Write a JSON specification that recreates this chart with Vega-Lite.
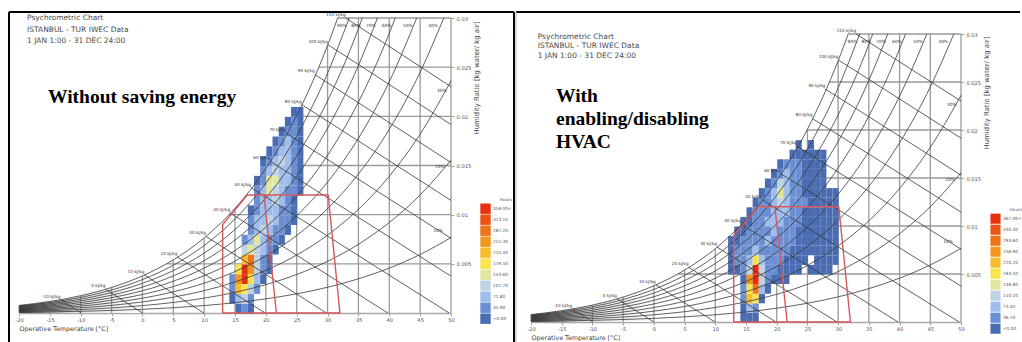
{
"$schema": "https://vega.github.io/schema/vega-lite/v6.json",
"background": "white",
"padding": {"left": 8, "top": 10, "right": 0, "bottom": 0},
"spacing": -1,
"config": {"view": {"stroke": null}, "font": "DejaVu Sans", "axis": {"grid": false}},
"resolve": {"scale": {"color": "independent"}},
"datasets": {
"rh": [
{"p":100,"t":-20,"w":0.000771},{"p":100,"t":-15,"w":0.001176},{"p":100,"t":-10,"w":0.001762},{"p":100,"t":-5,"w":0.002598},{"p":100,"t":0,"w":0.003775},{"p":100,"t":5,"w":0.005403},{"p":100,"t":10,"w":0.007632},{"p":100,"t":15,"w":0.01065},{"p":100,"t":20,"w":0.014699},{"p":100,"t":25,"w":0.020086},{"p":100,"t":30,"w":0.02721},{"p":100,"t":31.64,"w":0.03},
{"p":90,"t":-20,"w":0.000694},{"p":90,"t":-15,"w":0.001058},{"p":90,"t":-10,"w":0.001586},{"p":90,"t":-5,"w":0.002338},{"p":90,"t":0,"w":0.003395},{"p":90,"t":5,"w":0.004858},{"p":90,"t":10,"w":0.006861},{"p":90,"t":15,"w":0.009568},{"p":90,"t":20,"w":0.013198},{"p":90,"t":25,"w":0.018019},{"p":90,"t":30,"w":0.024382},{"p":90,"t":33.5,"w":0.03},
{"p":80,"t":-20,"w":0.000616},{"p":80,"t":-15,"w":0.000941},{"p":80,"t":-10,"w":0.001409},{"p":80,"t":-5,"w":0.002077},{"p":80,"t":0,"w":0.003016},{"p":80,"t":5,"w":0.004315},{"p":80,"t":10,"w":0.006091},{"p":80,"t":15,"w":0.008491},{"p":80,"t":20,"w":0.011704},{"p":80,"t":25,"w":0.015966},{"p":80,"t":30,"w":0.021579},{"p":80,"t":35,"w":0.028927},{"p":80,"t":35.62,"w":0.03},
{"p":70,"t":-20,"w":0.000539},{"p":70,"t":-15,"w":0.000822},{"p":70,"t":-10,"w":0.001233},{"p":70,"t":-5,"w":0.001817},{"p":70,"t":0,"w":0.002637},{"p":70,"t":5,"w":0.003772},{"p":70,"t":10,"w":0.005323},{"p":70,"t":15,"w":0.007417},{"p":70,"t":20,"w":0.010216},{"p":70,"t":25,"w":0.013925},{"p":70,"t":30,"w":0.0188},{"p":70,"t":35,"w":0.025165},{"p":70,"t":38.08,"w":0.03},
{"p":60,"t":-20,"w":0.000462},{"p":60,"t":-15,"w":0.000705},{"p":60,"t":-10,"w":0.001056},{"p":60,"t":-5,"w":0.001556},{"p":60,"t":0,"w":0.002259},{"p":60,"t":5,"w":0.003231},{"p":60,"t":10,"w":0.004557},{"p":60,"t":15,"w":0.006346},{"p":60,"t":20,"w":0.008737},{"p":60,"t":25,"w":0.011898},{"p":60,"t":30,"w":0.016045},{"p":60,"t":35,"w":0.021446},{"p":60,"t":40,"w":0.028442},{"p":60,"t":40.97,"w":0.03},
{"p":50,"t":-20,"w":0.000385},{"p":50,"t":-15,"w":0.000587},{"p":50,"t":-10,"w":0.00088},{"p":50,"t":-5,"w":0.001297},{"p":50,"t":0,"w":0.001882},{"p":50,"t":5,"w":0.00269},{"p":50,"t":10,"w":0.003793},{"p":50,"t":15,"w":0.00528},{"p":50,"t":20,"w":0.007264},{"p":50,"t":25,"w":0.009884},{"p":50,"t":30,"w":0.013314},{"p":50,"t":35,"w":0.01777},{"p":50,"t":40,"w":0.023522},{"p":50,"t":44.44,"w":0.03},
{"p":40,"t":-20,"w":0.000308},{"p":40,"t":-15,"w":0.00047},{"p":40,"t":-10,"w":0.000704},{"p":40,"t":-5,"w":0.001037},{"p":40,"t":0,"w":0.001505},{"p":40,"t":5,"w":0.00215},{"p":40,"t":10,"w":0.003031},{"p":40,"t":15,"w":0.004217},{"p":40,"t":20,"w":0.005798},{"p":40,"t":25,"w":0.007882},{"p":40,"t":30,"w":0.010606},{"p":40,"t":35,"w":0.014135},{"p":40,"t":40,"w":0.018677},{"p":40,"t":45,"w":0.024486},{"p":40,"t":48.83,"w":0.03},
{"p":30,"t":-20,"w":0.000231},{"p":30,"t":-15,"w":0.000353},{"p":30,"t":-10,"w":0.000528},{"p":30,"t":-5,"w":0.000778},{"p":30,"t":0,"w":0.001128},{"p":30,"t":5,"w":0.001611},{"p":30,"t":10,"w":0.00227},{"p":30,"t":15,"w":0.003157},{"p":30,"t":20,"w":0.004338},{"p":30,"t":25,"w":0.005893},{"p":30,"t":30,"w":0.00792},{"p":30,"t":35,"w":0.010541},{"p":30,"t":40,"w":0.013903},{"p":30,"t":45,"w":0.018186},{"p":30,"t":50,"w":0.023609},
{"p":20,"t":-20,"w":0.000154},{"p":20,"t":-15,"w":0.000235},{"p":20,"t":-10,"w":0.000352},{"p":20,"t":-5,"w":0.000518},{"p":20,"t":0,"w":0.000751},{"p":20,"t":5,"w":0.001073},{"p":20,"t":10,"w":0.001511},{"p":20,"t":15,"w":0.002101},{"p":20,"t":20,"w":0.002885},{"p":20,"t":25,"w":0.003916},{"p":20,"t":30,"w":0.005258},{"p":20,"t":35,"w":0.006988},{"p":20,"t":40,"w":0.0092},{"p":20,"t":45,"w":0.012007},{"p":20,"t":50,"w":0.015543},
{"p":10,"t":-20,"w":0.000077},{"p":10,"t":-15,"w":0.000117},{"p":10,"t":-10,"w":0.000176},{"p":10,"t":-5,"w":0.000259},{"p":10,"t":0,"w":0.000376},{"p":10,"t":5,"w":0.000536},{"p":10,"t":10,"w":0.000755},{"p":10,"t":15,"w":0.001049},{"p":10,"t":20,"w":0.001439},{"p":10,"t":25,"w":0.001952},{"p":10,"t":30,"w":0.002618},{"p":10,"t":35,"w":0.003475},{"p":10,"t":40,"w":0.004566},{"p":10,"t":45,"w":0.005946},{"p":10,"t":50,"w":0.007675}
],
"enth": [
{"h":-10,"t":-13.3,"w":0.001365},{"h":-10,"t":-9.94,"w":0},
{"h":0,"t":-6.0,"w":0.002424},{"h":0,"t":0,"w":0},
{"h":10,"t":0.31,"w":0.003873},{"h":10,"t":9.94,"w":0},
{"h":20,"t":5.66,"w":0.005696},{"h":20,"t":19.88,"w":0},
{"h":30,"t":10.28,"w":0.0078},{"h":30,"t":29.82,"w":0},
{"h":40,"t":14.2,"w":0.010174},{"h":40,"t":39.76,"w":0},
{"h":50,"t":17.6,"w":0.012746},{"h":50,"t":49.7,"w":0},
{"h":60,"t":20.7,"w":0.015427},{"h":60,"t":50,"w":0.00374},
{"h":70,"t":23.3,"w":0.0183},{"h":70,"t":50,"w":0.00759},
{"h":80,"t":25.8,"w":0.0212},{"h":80,"t":50,"w":0.01145},
{"h":90,"t":27.9,"w":0.02426},{"h":90,"t":50,"w":0.0153},
{"h":100,"t":30.05,"w":0.02729},{"h":100,"t":50,"w":0.01916},
{"h":110,"t":32.93,"w":0.03},{"h":110,"t":50,"w":0.02301}
],
"hlab": [
{"t":-13.3,"w":0.001365,"lab":"-10 kJ/kg"},{"t":-6.0,"w":0.002424,"lab":"0 kJ/kg"},{"t":0.31,"w":0.003873,"lab":"10 kJ/kg"},{"t":5.66,"w":0.005696,"lab":"20 kJ/kg"},{"t":10.28,"w":0.0078,"lab":"30 kJ/kg"},{"t":14.2,"w":0.010174,"lab":"40 kJ/kg"},{"t":17.6,"w":0.012746,"lab":"50 kJ/kg"},{"t":20.7,"w":0.015427,"lab":"60 kJ/kg"},{"t":23.3,"w":0.0183,"lab":"70 kJ/kg"},{"t":25.8,"w":0.0212,"lab":"80 kJ/kg"},{"t":27.9,"w":0.02426,"lab":"90 kJ/kg"},{"t":30.05,"w":0.02729,"lab":"100 kJ/kg"},{"t":32.93,"w":0.03,"lab":"110 kJ/kg"}
],
"rhlab": [
{"t":32.3,"w":0.0292,"lab":"90%"},{"t":34.6,"w":0.0292,"lab":"80%"},{"t":37.0,"w":0.0292,"lab":"70%"},{"t":39.6,"w":0.0292,"lab":"60%"},{"t":43.0,"w":0.0292,"lab":"50%"},{"t":47.1,"w":0.0292,"lab":"40%"},{"t":48.5,"w":0.0226,"lab":"30%"},{"t":48.2,"w":0.0148,"lab":"20%"},{"t":47.9,"w":0.0083,"lab":"10%"}
],
"vgrid": [
{"t":-20,"w":0,"w2":0.000771},{"t":-15,"w":0,"w2":0.001176},{"t":-10,"w":0,"w2":0.001762},{"t":-5,"w":0,"w2":0.002598},{"t":0,"w":0,"w2":0.003775},{"t":5,"w":0,"w2":0.005403},{"t":10,"w":0,"w2":0.007632},{"t":15,"w":0,"w2":0.01065},{"t":20,"w":0,"w2":0.014699},{"t":25,"w":0,"w2":0.020086},{"t":30,"w":0,"w2":0.02721},{"t":35,"w":0,"w2":0.03},{"t":40,"w":0,"w2":0.03},{"t":45,"w":0,"w2":0.03},{"t":50,"w":0,"w2":0.03}
],
"hgrid": [
{"w":0.005,"t":3.9,"t2":50},{"w":0.01,"t":14.04,"t2":50},{"w":0.015,"t":20.31,"t2":50},{"w":0.02,"t":24.93,"t2":50},{"w":0.025,"t":28.59,"t2":50},{"w":0.03,"t":31.64,"t2":50}
],
"shade": [
{"t":-20,"w":0.000771},{"t":-15,"w":0.001176},{"t":-10,"w":0.001762},{"t":-5,"w":0.002598},{"t":0,"w":0.003775}
],
"frameLdark": [
{"t":-21.62,"t2":60.21,"w":0.03061,"w2":0.03061},{"t":-21.62,"t2":-21.62,"w":0.03061,"w2":-0.003},{"t":60.21,"t2":60.21,"w":0.03061,"w2":-0.003}
],
"frameLlight": [
{"t":-21.62,"t2":60.21,"w":-0.003,"w2":-0.003}
],
"frameRdark": [
{"t":-22.44,"t2":59.6,"w":0.032292,"w2":0.032292}
],
"frameRlight": [
{"t":-22.44,"t2":-22.44,"w":0.032292,"w2":-0.002135},{"t":-22.44,"t2":59.6,"w":-0.002135,"w2":-0.002135}
],
"comfort": [
{"poly":"A","i":0,"t":13,"w":0},{"poly":"A","i":1,"t":13,"w":0.009},{"poly":"A","i":2,"t":17,"w":0.012},{"poly":"A","i":3,"t":19.7,"w":0.012},{"poly":"A","i":4,"t":21.7,"w":0},{"poly":"A","i":5,"t":13,"w":0},
{"poly":"B","i":0,"t":19.7,"w":0.012},{"poly":"B","i":1,"t":30.1,"w":0.012},{"poly":"B","i":2,"t":32,"w":0},{"poly":"B","i":3,"t":21.7,"w":0}
],
"heatL": [
{"t":15,"w":0,"hrs":"<0.00"},{"t":16,"w":0,"hrs":"35.90"},{"t":17,"w":0,"hrs":"<0.00"},
{"t":14,"w":0.001,"hrs":"<0.00"},{"t":15,"w":0.001,"hrs":"71.80"},{"t":16,"w":0.001,"hrs":"107.70"},{"t":17,"w":0.001,"hrs":"35.90"},
{"t":14,"w":0.002,"hrs":"35.90"},{"t":15,"w":0.002,"hrs":"215.40"},{"t":16,"w":0.002,"hrs":"179.50"},{"t":17,"w":0.002,"hrs":"107.70"},{"t":18,"w":0.002,"hrs":"35.90"},
{"t":14,"w":0.003,"hrs":"35.90"},{"t":15,"w":0.003,"hrs":"251.30"},{"t":16,"w":0.003,"hrs":"359.00<"},{"t":17,"w":0.003,"hrs":"179.50"},{"t":18,"w":0.003,"hrs":"71.80"},{"t":19,"w":0.003,"hrs":"<0.00"},
{"t":15,"w":0.004,"hrs":"179.50"},{"t":16,"w":0.004,"hrs":"359.00<"},{"t":17,"w":0.004,"hrs":"251.30"},{"t":18,"w":0.004,"hrs":"107.70"},{"t":19,"w":0.004,"hrs":"35.90"},{"t":20,"w":0.004,"hrs":"<0.00"},
{"t":16,"w":0.005,"hrs":"215.40"},{"t":17,"w":0.005,"hrs":"287.20"},{"t":18,"w":0.005,"hrs":"107.70"},{"t":19,"w":0.005,"hrs":"35.90"},{"t":20,"w":0.005,"hrs":"<0.00"},
{"t":16,"w":0.006,"hrs":"107.70"},{"t":17,"w":0.006,"hrs":"143.60"},{"t":18,"w":0.006,"hrs":"107.70"},{"t":19,"w":0.006,"hrs":"71.80"},{"t":20,"w":0.006,"hrs":"35.90"},{"t":21,"w":0.006,"hrs":"<0.00"},
{"t":16,"w":0.007,"hrs":"35.90"},{"t":17,"w":0.007,"hrs":"71.80"},{"t":18,"w":0.007,"hrs":"143.60"},{"t":19,"w":0.007,"hrs":"71.80"},{"t":20,"w":0.007,"hrs":"35.90"},{"t":21,"w":0.007,"hrs":"35.90"},{"t":22,"w":0.007,"hrs":"<0.00"},
{"t":17,"w":0.008,"hrs":"35.90"},{"t":18,"w":0.008,"hrs":"71.80"},{"t":19,"w":0.008,"hrs":"107.70"},{"t":20,"w":0.008,"hrs":"71.80"},{"t":21,"w":0.008,"hrs":"35.90"},{"t":22,"w":0.008,"hrs":"35.90"},{"t":23,"w":0.008,"hrs":"<0.00"},
{"t":17,"w":0.009,"hrs":"35.90"},{"t":18,"w":0.009,"hrs":"71.80"},{"t":19,"w":0.009,"hrs":"71.80"},{"t":20,"w":0.009,"hrs":"107.70"},{"t":21,"w":0.009,"hrs":"71.80"},{"t":22,"w":0.009,"hrs":"35.90"},{"t":23,"w":0.009,"hrs":"35.90"},{"t":24,"w":0.009,"hrs":"<0.00"},
{"t":17,"w":0.01,"hrs":"<0.00"},{"t":18,"w":0.01,"hrs":"35.90"},{"t":19,"w":0.01,"hrs":"71.80"},{"t":20,"w":0.01,"hrs":"71.80"},{"t":21,"w":0.01,"hrs":"71.80"},{"t":22,"w":0.01,"hrs":"35.90"},{"t":23,"w":0.01,"hrs":"35.90"},{"t":24,"w":0.01,"hrs":"<0.00"},
{"t":18,"w":0.011,"hrs":"35.90"},{"t":19,"w":0.011,"hrs":"71.80"},{"t":20,"w":0.011,"hrs":"71.80"},{"t":21,"w":0.011,"hrs":"107.70"},{"t":22,"w":0.011,"hrs":"71.80"},{"t":23,"w":0.011,"hrs":"35.90"},{"t":24,"w":0.011,"hrs":"<0.00"},
{"t":18,"w":0.012,"hrs":"35.90"},{"t":19,"w":0.012,"hrs":"71.80"},{"t":20,"w":0.012,"hrs":"143.60"},{"t":21,"w":0.012,"hrs":"107.70"},{"t":22,"w":0.012,"hrs":"71.80"},{"t":23,"w":0.012,"hrs":"35.90"},{"t":24,"w":0.012,"hrs":"35.90"},{"t":25,"w":0.012,"hrs":"<0.00"},
{"t":18,"w":0.013,"hrs":"<0.00"},{"t":19,"w":0.013,"hrs":"35.90"},{"t":20,"w":0.013,"hrs":"143.60"},{"t":21,"w":0.013,"hrs":"143.60"},{"t":22,"w":0.013,"hrs":"71.80"},{"t":23,"w":0.013,"hrs":"71.80"},{"t":24,"w":0.013,"hrs":"35.90"},{"t":25,"w":0.013,"hrs":"<0.00"},
{"t":19,"w":0.014,"hrs":"35.90"},{"t":20,"w":0.014,"hrs":"71.80"},{"t":21,"w":0.014,"hrs":"107.70"},{"t":22,"w":0.014,"hrs":"71.80"},{"t":23,"w":0.014,"hrs":"71.80"},{"t":24,"w":0.014,"hrs":"35.90"},{"t":25,"w":0.014,"hrs":"<0.00"},
{"t":19,"w":0.015,"hrs":"<0.00"},{"t":20,"w":0.015,"hrs":"35.90"},{"t":21,"w":0.015,"hrs":"71.80"},{"t":22,"w":0.015,"hrs":"107.70"},{"t":23,"w":0.015,"hrs":"71.80"},{"t":24,"w":0.015,"hrs":"35.90"},{"t":25,"w":0.015,"hrs":"<0.00"},
{"t":20,"w":0.016,"hrs":"<0.00"},{"t":21,"w":0.016,"hrs":"35.90"},{"t":22,"w":0.016,"hrs":"71.80"},{"t":23,"w":0.016,"hrs":"71.80"},{"t":24,"w":0.016,"hrs":"35.90"},{"t":25,"w":0.016,"hrs":"<0.00"},
{"t":21,"w":0.017,"hrs":"<0.00"},{"t":22,"w":0.017,"hrs":"35.90"},{"t":23,"w":0.017,"hrs":"71.80"},{"t":24,"w":0.017,"hrs":"35.90"},{"t":25,"w":0.017,"hrs":"<0.00"},
{"t":22,"w":0.018,"hrs":"<0.00"},{"t":23,"w":0.018,"hrs":"35.90"},{"t":24,"w":0.018,"hrs":"35.90"},{"t":25,"w":0.018,"hrs":"<0.00"},
{"t":23,"w":0.019,"hrs":"<0.00"},{"t":24,"w":0.019,"hrs":"35.90"},{"t":25,"w":0.019,"hrs":"<0.00"},
{"t":24,"w":0.02,"hrs":"<0.00"},{"t":25,"w":0.02,"hrs":"<0.00"}
],
"heatR": [
{"t":14,"w":0,"hrs":"<0.00"},{"t":15,"w":0,"hrs":"<0.00"},{"t":16,"w":0,"hrs":"<0.00"},
{"t":14,"w":0.001,"hrs":"<0.00"},{"t":15,"w":0.001,"hrs":"73.40"},{"t":16,"w":0.001,"hrs":"36.70"},
{"t":14,"w":0.002,"hrs":"36.70"},{"t":15,"w":0.002,"hrs":"220.20"},{"t":16,"w":0.002,"hrs":"183.50"},{"t":17,"w":0.002,"hrs":"<0.00"},
{"t":14,"w":0.003,"hrs":"36.70"},{"t":15,"w":0.003,"hrs":"183.50"},{"t":16,"w":0.003,"hrs":"293.60"},{"t":17,"w":0.003,"hrs":"73.40"},{"t":18,"w":0.003,"hrs":"<0.00"},
{"t":14,"w":0.004,"hrs":"<0.00"},{"t":15,"w":0.004,"hrs":"256.90"},{"t":16,"w":0.004,"hrs":"367.00<"},{"t":17,"w":0.004,"hrs":"110.10"},{"t":18,"w":0.004,"hrs":"36.70"},{"t":19,"w":0.004,"hrs":"<0.00"},{"t":20,"w":0.004,"hrs":"<0.00"},{"t":21,"w":0.004,"hrs":"<0.00"},
{"t":12,"w":0.005,"hrs":"<0.00"},{"t":13,"w":0.005,"hrs":"<0.00"},{"t":14,"w":0.005,"hrs":"36.70"},{"t":15,"w":0.005,"hrs":"110.10"},{"t":16,"w":0.005,"hrs":"367.00<"},{"t":17,"w":0.005,"hrs":"110.10"},{"t":18,"w":0.005,"hrs":"36.70"},{"t":19,"w":0.005,"hrs":"36.70"},{"t":20,"w":0.005,"hrs":"<0.00"},{"t":21,"w":0.005,"hrs":"<0.00"},{"t":22,"w":0.005,"hrs":"<0.00"},{"t":23,"w":0.005,"hrs":"<0.00"},{"t":25,"w":0.005,"hrs":"<0.00"},{"t":26,"w":0.005,"hrs":"<0.00"},{"t":27,"w":0.005,"hrs":"<0.00"},{"t":28,"w":0.005,"hrs":"<0.00"},
{"t":12,"w":0.006,"hrs":"<0.00"},{"t":13,"w":0.006,"hrs":"36.70"},{"t":14,"w":0.006,"hrs":"36.70"},{"t":15,"w":0.006,"hrs":"73.40"},{"t":16,"w":0.006,"hrs":"183.50"},{"t":17,"w":0.006,"hrs":"73.40"},{"t":18,"w":0.006,"hrs":"36.70"},{"t":19,"w":0.006,"hrs":"36.70"},{"t":20,"w":0.006,"hrs":"36.70"},{"t":21,"w":0.006,"hrs":"<0.00"},{"t":22,"w":0.006,"hrs":"<0.00"},{"t":23,"w":0.006,"hrs":"<0.00"},{"t":24,"w":0.006,"hrs":"<0.00"},{"t":26,"w":0.006,"hrs":"<0.00"},{"t":27,"w":0.006,"hrs":"<0.00"},{"t":28,"w":0.006,"hrs":"<0.00"},{"t":29,"w":0.006,"hrs":"<0.00"},
{"t":12,"w":0.007,"hrs":"<0.00"},{"t":13,"w":0.007,"hrs":"36.70"},{"t":14,"w":0.007,"hrs":"36.70"},{"t":15,"w":0.007,"hrs":"36.70"},{"t":16,"w":0.007,"hrs":"73.40"},{"t":17,"w":0.007,"hrs":"36.70"},{"t":18,"w":0.007,"hrs":"36.70"},{"t":19,"w":0.007,"hrs":"36.70"},{"t":20,"w":0.007,"hrs":"36.70"},{"t":21,"w":0.007,"hrs":"36.70"},{"t":22,"w":0.007,"hrs":"<0.00"},{"t":23,"w":0.007,"hrs":"<0.00"},{"t":24,"w":0.007,"hrs":"<0.00"},{"t":25,"w":0.007,"hrs":"<0.00"},{"t":26,"w":0.007,"hrs":"<0.00"},{"t":27,"w":0.007,"hrs":"<0.00"},{"t":28,"w":0.007,"hrs":"<0.00"},{"t":29,"w":0.007,"hrs":"<0.00"},
{"t":12,"w":0.008,"hrs":"<0.00"},{"t":13,"w":0.008,"hrs":"<0.00"},{"t":14,"w":0.008,"hrs":"36.70"},{"t":15,"w":0.008,"hrs":"36.70"},{"t":16,"w":0.008,"hrs":"36.70"},{"t":17,"w":0.008,"hrs":"36.70"},{"t":18,"w":0.008,"hrs":"73.40"},{"t":19,"w":0.008,"hrs":"36.70"},{"t":20,"w":0.008,"hrs":"36.70"},{"t":21,"w":0.008,"hrs":"36.70"},{"t":22,"w":0.008,"hrs":"36.70"},{"t":23,"w":0.008,"hrs":"<0.00"},{"t":24,"w":0.008,"hrs":"<0.00"},{"t":25,"w":0.008,"hrs":"<0.00"},{"t":26,"w":0.008,"hrs":"<0.00"},{"t":27,"w":0.008,"hrs":"<0.00"},{"t":28,"w":0.008,"hrs":"<0.00"},{"t":29,"w":0.008,"hrs":"<0.00"},
{"t":13,"w":0.009,"hrs":"<0.00"},{"t":14,"w":0.009,"hrs":"<0.00"},{"t":15,"w":0.009,"hrs":"36.70"},{"t":16,"w":0.009,"hrs":"36.70"},{"t":17,"w":0.009,"hrs":"36.70"},{"t":18,"w":0.009,"hrs":"36.70"},{"t":19,"w":0.009,"hrs":"73.40"},{"t":20,"w":0.009,"hrs":"36.70"},{"t":21,"w":0.009,"hrs":"36.70"},{"t":22,"w":0.009,"hrs":"36.70"},{"t":23,"w":0.009,"hrs":"<0.00"},{"t":24,"w":0.009,"hrs":"<0.00"},{"t":25,"w":0.009,"hrs":"<0.00"},{"t":26,"w":0.009,"hrs":"<0.00"},{"t":27,"w":0.009,"hrs":"<0.00"},{"t":28,"w":0.009,"hrs":"<0.00"},{"t":29,"w":0.009,"hrs":"<0.00"},
{"t":14,"w":0.01,"hrs":"<0.00"},{"t":15,"w":0.01,"hrs":"<0.00"},{"t":16,"w":0.01,"hrs":"36.70"},{"t":17,"w":0.01,"hrs":"36.70"},{"t":18,"w":0.01,"hrs":"73.40"},{"t":19,"w":0.01,"hrs":"73.40"},{"t":20,"w":0.01,"hrs":"73.40"},{"t":21,"w":0.01,"hrs":"36.70"},{"t":22,"w":0.01,"hrs":"36.70"},{"t":23,"w":0.01,"hrs":"36.70"},{"t":24,"w":0.01,"hrs":"<0.00"},{"t":25,"w":0.01,"hrs":"<0.00"},{"t":26,"w":0.01,"hrs":"<0.00"},{"t":27,"w":0.01,"hrs":"<0.00"},{"t":28,"w":0.01,"hrs":"<0.00"},{"t":29,"w":0.01,"hrs":"<0.00"},
{"t":15,"w":0.011,"hrs":"<0.00"},{"t":16,"w":0.011,"hrs":"36.70"},{"t":17,"w":0.011,"hrs":"36.70"},{"t":18,"w":0.011,"hrs":"36.70"},{"t":19,"w":0.011,"hrs":"73.40"},{"t":20,"w":0.011,"hrs":"73.40"},{"t":21,"w":0.011,"hrs":"73.40"},{"t":22,"w":0.011,"hrs":"36.70"},{"t":23,"w":0.011,"hrs":"36.70"},{"t":24,"w":0.011,"hrs":"<0.00"},{"t":25,"w":0.011,"hrs":"<0.00"},{"t":26,"w":0.011,"hrs":"<0.00"},{"t":27,"w":0.011,"hrs":"<0.00"},{"t":28,"w":0.011,"hrs":"<0.00"},{"t":29,"w":0.011,"hrs":"<0.00"},
{"t":16,"w":0.012,"hrs":"<0.00"},{"t":17,"w":0.012,"hrs":"36.70"},{"t":18,"w":0.012,"hrs":"36.70"},{"t":19,"w":0.012,"hrs":"73.40"},{"t":20,"w":0.012,"hrs":"110.10"},{"t":21,"w":0.012,"hrs":"73.40"},{"t":22,"w":0.012,"hrs":"36.70"},{"t":23,"w":0.012,"hrs":"36.70"},{"t":24,"w":0.012,"hrs":"36.70"},{"t":25,"w":0.012,"hrs":"<0.00"},{"t":26,"w":0.012,"hrs":"<0.00"},{"t":27,"w":0.012,"hrs":"<0.00"},{"t":28,"w":0.012,"hrs":"<0.00"},{"t":29,"w":0.012,"hrs":"<0.00"},
{"t":17,"w":0.013,"hrs":"<0.00"},{"t":18,"w":0.013,"hrs":"36.70"},{"t":19,"w":0.013,"hrs":"73.40"},{"t":20,"w":0.013,"hrs":"146.80"},{"t":21,"w":0.013,"hrs":"73.40"},{"t":22,"w":0.013,"hrs":"36.70"},{"t":23,"w":0.013,"hrs":"36.70"},{"t":24,"w":0.013,"hrs":"<0.00"},{"t":25,"w":0.013,"hrs":"<0.00"},{"t":26,"w":0.013,"hrs":"<0.00"},{"t":27,"w":0.013,"hrs":"<0.00"},{"t":28,"w":0.013,"hrs":"<0.00"},{"t":29,"w":0.013,"hrs":"<0.00"},
{"t":18,"w":0.014,"hrs":"<0.00"},{"t":19,"w":0.014,"hrs":"36.70"},{"t":20,"w":0.014,"hrs":"110.10"},{"t":21,"w":0.014,"hrs":"73.40"},{"t":22,"w":0.014,"hrs":"36.70"},{"t":23,"w":0.014,"hrs":"36.70"},{"t":24,"w":0.014,"hrs":"<0.00"},{"t":25,"w":0.014,"hrs":"<0.00"},{"t":26,"w":0.014,"hrs":"<0.00"},{"t":27,"w":0.014,"hrs":"<0.00"},
{"t":19,"w":0.015,"hrs":"<0.00"},{"t":20,"w":0.015,"hrs":"36.70"},{"t":21,"w":0.015,"hrs":"73.40"},{"t":22,"w":0.015,"hrs":"36.70"},{"t":23,"w":0.015,"hrs":"36.70"},{"t":24,"w":0.015,"hrs":"<0.00"},{"t":25,"w":0.015,"hrs":"<0.00"},{"t":26,"w":0.015,"hrs":"<0.00"},{"t":27,"w":0.015,"hrs":"<0.00"},
{"t":20,"w":0.016,"hrs":"<0.00"},{"t":21,"w":0.016,"hrs":"36.70"},{"t":22,"w":0.016,"hrs":"36.70"},{"t":23,"w":0.016,"hrs":"36.70"},{"t":24,"w":0.016,"hrs":"<0.00"},{"t":25,"w":0.016,"hrs":"<0.00"},{"t":26,"w":0.016,"hrs":"<0.00"},{"t":27,"w":0.016,"hrs":"<0.00"},
{"t":22,"w":0.017,"hrs":"<0.00"},{"t":23,"w":0.017,"hrs":"<0.00"},{"t":24,"w":0.017,"hrs":"<0.00"},{"t":25,"w":0.017,"hrs":"<0.00"},{"t":26,"w":0.017,"hrs":"<0.00"},{"t":27,"w":0.017,"hrs":"<0.00"},
{"t":23,"w":0.018,"hrs":"<0.00"},{"t":25,"w":0.018,"hrs":"<0.00"}
]
},
"hconcat": [
{
"width": 432, "height": 295,
"layer": [
{"data": {"name": "shade"}, "mark": {"type": "area", "interpolate": "monotone", "color": {"gradient": "linear", "x1": 0, "x2": 1, "y1": 0, "y2": 0, "stops": [{"offset": 0, "color": "#4a4a4a"}, {"offset": 0.2, "color": "#9a9a9a"}, {"offset": 0.45, "color": "#e2e2e2"}, {"offset": 1, "color": "#ffffff"}]}},
 "encoding": {"x": {"field": "t", "type": "quantitative"}, "y": {"field": "w", "type": "quantitative"}}},
{"data": {"name": "vgrid"}, "mark": {"type": "rule", "color": "#9a9a9a", "strokeWidth": 1.3},
 "encoding": {
  "x": {"field": "t", "type": "quantitative", "scale": {"domain": [-20, 50], "nice": false, "zero": false},
   "axis": {"values": [-20,-15,-10,-5,0,5,10,15,20,25,30,35,40,45,50], "labelExpr": "''+datum.value", "labelFontSize": 5.2, "labelColor": "#555", "labelPadding": 1, "labelFlush": false, "labelOverlap": false, "tickColor": "#a0a0a0", "tickSize": 3, "domain": true, "domainColor": "#a8a8a8", "domainWidth": 1.5, "grid": false, "title": "Operative Temperature [°C]", "titleFontSize": 6.4, "titleFontWeight": "normal", "titleColor": "#444", "titleAnchor": "start", "titlePadding": 3}},
  "y": {"field": "w", "type": "quantitative", "scale": {"domain": [0, 0.03], "nice": false, "zero": false},
   "axis": {"orient": "right", "values": [0.005,0.01,0.015,0.02,0.025,0.03], "labelExpr": "''+datum.value", "labelFontSize": 5.2, "labelColor": "#555", "labelPadding": 2, "labelFlush": false, "labelOverlap": false, "domain": false, "tickColor": "#a0a0a0", "tickSize": 3, "grid": false, "title": "Humidity Ratio [kg water/ kg air]", "titleAngle": 270, "titleAlign": "right", "titleBaseline": "top", "titleY": 3, "titleFontSize": 6.9, "titleFontWeight": "normal", "titleColor": "#444", "titlePadding": 3}},
  "y2": {"field": "w2"}}},
{"data": {"name": "hgrid"}, "mark": {"type": "rule", "color": "#9a9a9a", "strokeWidth": 1.3},
 "encoding": {"x": {"field": "t", "type": "quantitative"}, "x2": {"field": "t2"}, "y": {"field": "w", "type": "quantitative"}}},
{"data": {"name": "heatL"}, "mark": {"type": "rect"},
 "encoding": {
  "x": {"field": "t", "type": "quantitative", "bin": {"binned": true, "step": 1}},
  "y": {"field": "w", "type": "quantitative", "bin": {"binned": true, "step": 0.001}},
  "color": {"field": "hrs", "type": "nominal",
   "scale": {"domain": ["359.00<","323.10","287.20","251.30","215.40","179.50","143.60","107.70","71.80","35.90","<0.00"], "range": ["#e8300e","#ea5313","#ee7316","#f2951d","#f6bb2e","#f8e44e","#e2e59c","#bfd3e3","#9fbeee","#6b8fd3","#4a6cb3"]},
   "legend": {"title": "Hours", "orient": "none", "legendX": 461, "legendY": 180, "symbolType": "square", "symbolSize": 108, "symbolStrokeWidth": 0, "symbolOpacity": 1, "rowPadding": 0, "labelFontSize": 4.3, "labelColor": "#555", "labelOffset": 2, "titleFontSize": 4.2, "titleFontWeight": "normal", "titleColor": "#555", "titlePadding": 1, "titleAnchor": "end", "padding": 0}}}},
{"data": {"name": "rh"}, "mark": {"type": "line", "interpolate": "monotone", "color": "#383838", "strokeWidth": 0.8},
 "encoding": {"x": {"field": "t", "type": "quantitative"}, "y": {"field": "w", "type": "quantitative"}, "detail": {"field": "p", "type": "nominal"}}},
{"data": {"name": "enth"}, "mark": {"type": "line", "color": "#383838", "strokeWidth": 0.8},
 "encoding": {"x": {"field": "t", "type": "quantitative"}, "y": {"field": "w", "type": "quantitative"}, "detail": {"field": "h", "type": "nominal"}}},
{"data": {"name": "comfort"}, "mark": {"type": "line", "color": "#d4575b", "strokeWidth": 1.4},
 "encoding": {"x": {"field": "t", "type": "quantitative"}, "y": {"field": "w", "type": "quantitative"}, "detail": {"field": "poly", "type": "nominal"}, "order": {"field": "i", "type": "quantitative"}}},
{"data": {"name": "hlab"}, "mark": {"type": "text", "align": "right", "baseline": "bottom", "dy": -1, "fontSize": 4.2, "color": "#333"},
 "encoding": {"x": {"field": "t", "type": "quantitative"}, "y": {"field": "w", "type": "quantitative"}, "text": {"field": "lab"}}},
{"data": {"name": "rhlab"}, "mark": {"type": "text", "align": "center", "baseline": "middle", "fontSize": 4.3, "color": "#333"},
 "encoding": {"x": {"field": "t", "type": "quantitative"}, "y": {"field": "w", "type": "quantitative"}, "text": {"field": "lab"}}},
{"data": {"values": [{}]}, "mark": {"type": "text", "text": ["Psychrometric Chart", "ISTANBUL - TUR IWEC Data", "1 JAN 1:00 - 31 DEC 24:00"], "align": "left", "baseline": "alphabetic", "lineHeight": 11.2, "fontSize": 7.5, "color": "#4a4a4a"},
 "encoding": {"x": {"datum": -18.7}, "y": {"datum": 0.029746}}},
{"data": {"values": [{}]}, "mark": {"type": "text", "text": "Without saving energy", "align": "left", "baseline": "alphabetic", "fontSize": 19.5, "fontWeight": "bold", "font": "Liberation Serif", "color": "#000"},
 "encoding": {"x": {"datum": -15.3}, "y": {"datum": 0.021386}}},
{"data": {"name": "frameLdark"}, "mark": {"type": "rule", "color": "#000", "strokeWidth": 2},
 "encoding": {"x": {"field": "t", "type": "quantitative"}, "x2": {"field": "t2"}, "y": {"field": "w", "type": "quantitative"}, "y2": {"field": "w2"}}},
{"data": {"name": "frameLlight"}, "mark": {"type": "rule", "color": "#c8c8c8", "strokeWidth": 1},
 "encoding": {"x": {"field": "t", "type": "quantitative"}, "x2": {"field": "t2"}, "y": {"field": "w", "type": "quantitative"}, "y2": {"field": "w2"}}}
]
},
{
"width": 430, "height": 304,
"layer": [
{"data": {"name": "shade"}, "mark": {"type": "area", "interpolate": "monotone", "color": {"gradient": "linear", "x1": 0, "x2": 1, "y1": 0, "y2": 0, "stops": [{"offset": 0, "color": "#4a4a4a"}, {"offset": 0.2, "color": "#9a9a9a"}, {"offset": 0.45, "color": "#e2e2e2"}, {"offset": 1, "color": "#ffffff"}]}},
 "encoding": {"x": {"field": "t", "type": "quantitative"}, "y": {"field": "w", "type": "quantitative"}}},
{"data": {"name": "vgrid"}, "mark": {"type": "rule", "color": "#9a9a9a", "strokeWidth": 1.3},
 "encoding": {
  "x": {"field": "t", "type": "quantitative", "scale": {"domain": [-20, 50], "nice": false, "zero": false},
   "axis": {"values": [-20,-15,-10,-5,0,5,10,15,20,25,30,35,40,45,50], "labelExpr": "''+datum.value", "labelFontSize": 5.1, "labelColor": "#555", "labelPadding": 1, "labelFlush": false, "labelOverlap": false, "tickColor": "#a0a0a0", "tickSize": 3, "domain": true, "domainColor": "#a8a8a8", "domainWidth": 1.5, "grid": false, "title": "Operative Temperature [°C]", "titleFontSize": 6.4, "titleFontWeight": "normal", "titleColor": "#444", "titleAnchor": "start", "titlePadding": 3}},
  "y": {"field": "w", "type": "quantitative", "scale": {"domain": [0, 0.0316667], "nice": false, "zero": false},
   "axis": {"orient": "right", "values": [0.005,0.01,0.015,0.02,0.025,0.03], "labelExpr": "''+datum.value", "labelFontSize": 5.1, "labelColor": "#555", "labelPadding": 2, "labelFlush": false, "labelOverlap": false, "domain": false, "tickColor": "#a0a0a0", "tickSize": 3, "grid": false, "title": "Humidity Ratio [kg water/ kg air]", "titleAngle": 270, "titleAlign": "right", "titleBaseline": "top", "titleY": 18, "titleFontSize": 6.9, "titleFontWeight": "normal", "titleColor": "#444", "titlePadding": 3}},
  "y2": {"field": "w2"}}},
{"data": {"name": "hgrid"}, "mark": {"type": "rule", "color": "#9a9a9a", "strokeWidth": 1.3},
 "encoding": {"x": {"field": "t", "type": "quantitative"}, "x2": {"field": "t2"}, "y": {"field": "w", "type": "quantitative"}}},
{"data": {"name": "heatR"}, "mark": {"type": "rect"},
 "encoding": {
  "x": {"field": "t", "type": "quantitative", "bin": {"binned": true, "step": 1}},
  "y": {"field": "w", "type": "quantitative", "bin": {"binned": true, "step": 0.001}},
  "color": {"field": "hrs", "type": "nominal",
   "scale": {"domain": ["367.00<","330.30","293.60","256.90","220.20","183.50","146.80","110.10","73.40","36.70","<0.00"], "range": ["#e8300e","#ea5313","#ee7316","#f2951d","#f6bb2e","#f8e44e","#e2e59c","#bfd3e3","#9fbeee","#6b8fd3","#4a6cb3"]},
   "legend": {"title": "Hours", "orient": "none", "legendX": 459, "legendY": 190, "symbolType": "square", "symbolSize": 102, "symbolStrokeWidth": 0, "symbolOpacity": 1, "rowPadding": 0, "labelFontSize": 4.3, "labelColor": "#555", "labelOffset": 2, "titleFontSize": 4.2, "titleFontWeight": "normal", "titleColor": "#555", "titlePadding": 1, "titleAnchor": "end", "padding": 0}}}},
{"data": {"name": "rh"}, "mark": {"type": "line", "interpolate": "monotone", "color": "#383838", "strokeWidth": 0.8},
 "encoding": {"x": {"field": "t", "type": "quantitative"}, "y": {"field": "w", "type": "quantitative"}, "detail": {"field": "p", "type": "nominal"}}},
{"data": {"name": "enth"}, "mark": {"type": "line", "color": "#383838", "strokeWidth": 0.8},
 "encoding": {"x": {"field": "t", "type": "quantitative"}, "y": {"field": "w", "type": "quantitative"}, "detail": {"field": "h", "type": "nominal"}}},
{"data": {"name": "comfort"}, "mark": {"type": "line", "color": "#d4575b", "strokeWidth": 1.4},
 "encoding": {"x": {"field": "t", "type": "quantitative"}, "y": {"field": "w", "type": "quantitative"}, "detail": {"field": "poly", "type": "nominal"}, "order": {"field": "i", "type": "quantitative"}}},
{"data": {"name": "hlab"}, "mark": {"type": "text", "align": "right", "baseline": "bottom", "dy": -1, "fontSize": 4.2, "color": "#333"},
 "encoding": {"x": {"field": "t", "type": "quantitative"}, "y": {"field": "w", "type": "quantitative"}, "text": {"field": "lab"}}},
{"data": {"name": "rhlab"}, "mark": {"type": "text", "align": "center", "baseline": "middle", "fontSize": 4.3, "color": "#333"},
 "encoding": {"x": {"field": "t", "type": "quantitative"}, "y": {"field": "w", "type": "quantitative"}, "text": {"field": "lab"}}},
{"data": {"values": [{}]}, "mark": {"type": "text", "text": ["Psychrometric Chart", "ISTANBUL - TUR IWEC Data", "1 JAN 1:00 - 31 DEC 24:00"], "align": "left", "baseline": "alphabetic", "lineHeight": 9.6, "fontSize": 7.5, "color": "#4a4a4a"},
 "encoding": {"x": {"datum": -18.91}, "y": {"datum": 0.0295}}},
{"data": {"values": [{}]}, "mark": {"type": "text", "text": ["With", "enabling/disabling", "HVAC"], "align": "left", "baseline": "alphabetic", "lineHeight": 23, "fontSize": 19.5, "fontWeight": "bold", "font": "Liberation Serif", "color": "#000"},
 "encoding": {"x": {"datum": -15.93}, "y": {"datum": 0.022865}}},
{"data": {"name": "frameRdark"}, "mark": {"type": "rule", "color": "#000", "strokeWidth": 2},
 "encoding": {"x": {"field": "t", "type": "quantitative"}, "x2": {"field": "t2"}, "y": {"field": "w", "type": "quantitative"}, "y2": {"field": "w2"}}},
{"data": {"name": "frameRlight"}, "mark": {"type": "rule", "color": "#b8b8b8", "strokeWidth": 1},
 "encoding": {"x": {"field": "t", "type": "quantitative"}, "x2": {"field": "t2"}, "y": {"field": "w", "type": "quantitative"}, "y2": {"field": "w2"}}}
]
}
]
}
